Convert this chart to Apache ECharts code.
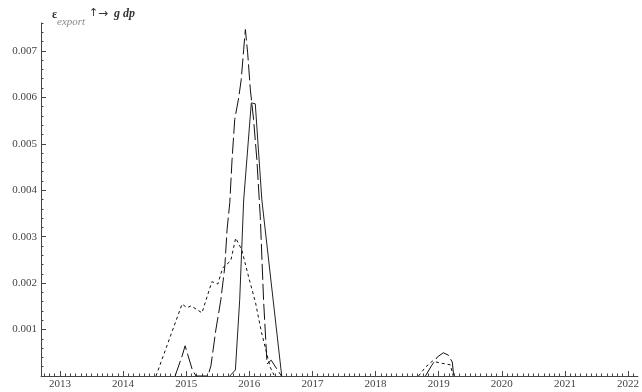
<!DOCTYPE html>
<html>
<head>
<meta charset="utf-8">
<script src="https://cdn.jsdelivr.net/npm/echarts@6/dist/echarts.min.js"></script>
<style>
html,body{margin:0;padding:0;background:#fff;}
#c{width:642px;height:392px;}
</style>
</head>
<body>
<div id="c"></div>
<script>
// ---- data (year, value) ----
const yearLabels = [2013, 2014, 2015, 2016, 2017, 2018, 2019, 2020, 2021, 2022];
const yLabels = [0.001, 0.002, 0.003, 0.004, 0.005, 0.006, 0.007];

const solidLine = [
  [2015.691, 0], [2015.780, 0.00013], [2015.848, 0.00164], [2015.911, 0.00379],
  [2016.032, 0.00588], [2016.095, 0.00586], [2016.199, 0.00379], [2016.514, 0]
];
const dashedLine = [
  [2014.825, 0], [2014.940, 0.00045], [2014.983, 0.00065], [2015.014, 0.00063],
  [2015.098, 0.00013], [2015.156, 0], [2015.345, 0], [2015.392, 0.00022],
  [2015.470, 0.00099], [2015.549, 0.00164], [2015.612, 0.00235], [2015.648, 0.00315],
  [2015.691, 0.00373], [2015.727, 0.00466], [2015.769, 0.00552], [2015.832, 0.00599],
  [2015.872, 0.00638], [2015.911, 0.00703], [2015.938, 0.00746], [2015.974, 0.00696],
  [2016.017, 0.00616], [2016.068, 0.00552], [2016.120, 0.00466], [2016.174, 0.00343],
  [2016.226, 0.00164], [2016.265, 0.00067], [2016.281, 0.00026], [2016.347, 0.00034],
  [2016.509, 0]
];
const dashedLine2019 = [
  [2018.791, 0], [2018.886, 0.00022], [2018.980, 0.00041], [2019.074, 0.00050],
  [2019.153, 0.00045], [2019.216, 0.00030], [2019.239, 0]
];
const dottedLine = [
  [2014.522, 0], [2014.935, 0.00155], [2015.014, 0.00147], [2015.077, 0.00151],
  [2015.250, 0.00136], [2015.407, 0.00203], [2015.501, 0.00198], [2015.580, 0.00233],
  [2015.706, 0.00248], [2015.785, 0.00297], [2015.880, 0.00272], [2015.990, 0.00213],
  [2016.100, 0.00157], [2016.195, 0.00093], [2016.274, 0.00050], [2016.331, 0.00019],
  [2016.400, 0]
];
const dottedLine2019 = [
  [2018.681, 0], [2018.791, 0.00019], [2018.901, 0.00032], [2019.027, 0.00028],
  [2019.184, 0.00024], [2019.231, 0]
];

// ---- axis ranges / ticks ----
const xMin = 2012.70, xMax = 2022.157;
const yMin = 0, yMax = 0.0076;
const monthTicks = [];
for (let y = 2012; y <= 2022; y++) {
  for (let m = 0; m < 12; m++) {
    const v = +(y + m / 12).toFixed(5);
    if (v >= xMin && v <= xMax) monthTicks.push(v);
  }
}
const yMinorTicks = [];
for (let i = 1; i <= 38; i++) yMinorTicks.push(+(i * 0.0002).toFixed(5));

const axisColor = '#444';
const labelFont = {fontFamily: 'Liberation Serif', fontSize: 11, color: '#444'};

const chart = echarts.init(document.getElementById('c'), null, {renderer: 'canvas'});
const lineSeries = (data, type, color) => ({
  type: 'line', data: data, xAxisIndex: 0, yAxisIndex: 0,
  showSymbol: false, symbol: 'none', smooth: false, animation: false,
  lineStyle: {color: color, width: 1, type: type}
});

chart.setOption({
  animation: false,
  backgroundColor: '#fff',
  grid: {left: 41, right: 0, top: 23, bottom: 16, containLabel: false},
  xAxis: [
    {
      type: 'value', min: xMin, max: xMax, position: 'bottom', gridIndex: 0,
      axisLine: {show: true, onZero: false, lineStyle: {color: axisColor, width: 1}},
      axisTick: {show: true, inside: true, length: 2.5, customValues: monthTicks, lineStyle: {color: axisColor}},
      axisLabel: {show: false},
      splitLine: {show: false}
    },
    {
      type: 'value', min: xMin, max: xMax, position: 'bottom', gridIndex: 0,
      axisLine: {show: false, onZero: false},
      axisTick: {show: true, inside: true, length: 5, customValues: yearLabels, lineStyle: {color: axisColor}},
      axisLabel: Object.assign({show: true, margin: 3, customValues: yearLabels, formatter: v => String(Math.round(v))}, labelFont),
      splitLine: {show: false}
    }
  ],
  yAxis: [
    {
      type: 'value', min: yMin, max: yMax, position: 'left', gridIndex: 0,
      axisLine: {show: true, onZero: false, lineStyle: {color: axisColor, width: 1}},
      axisTick: {show: true, inside: true, length: 2.5, customValues: yMinorTicks, lineStyle: {color: axisColor}},
      axisLabel: {show: false},
      splitLine: {show: false}
    },
    {
      type: 'value', min: yMin, max: yMax, position: 'left', gridIndex: 0,
      axisLine: {show: false, onZero: false},
      axisTick: {show: true, inside: true, length: 5, customValues: yLabels, lineStyle: {color: axisColor}},
      axisLabel: Object.assign({show: true, margin: 4, customValues: yLabels, formatter: v => v.toFixed(3)}, labelFont),
      splitLine: {show: false}
    }
  ],
  graphic: [
    {type: 'text', left: 52, top: 9, style: {text: 'ε', font: 'bold 12px "Liberation Serif"', fill: '#333'}},
    {type: 'text', left: 57, top: 17, style: {text: 'export', font: 'italic 11px "Liberation Serif"', fill: '#8a8a8a'}},
    {type: 'text', left: 89, top: 8, style: {text: '↑', font: '11px "DejaVu Sans"', fill: '#333'}},
    {type: 'text', left: 98, top: 8, style: {text: '→', font: '12px "DejaVu Sans"', fill: '#333'}},
    {type: 'text', left: 114, top: 8, style: {text: 'g dp', font: 'italic bold 12px "Liberation Serif"', fill: '#333'}}
  ],
  series: [
    lineSeries(solidLine, 'solid', '#222'),
    lineSeries(dashedLine, [16, 4], '#111'),
    lineSeries(dashedLine2019, [16, 4], '#111'),
    lineSeries(dottedLine, [3, 3], '#111'),
    lineSeries(dottedLine2019, [3, 3], '#111')
  ]
});
</script>
</body>
</html>
